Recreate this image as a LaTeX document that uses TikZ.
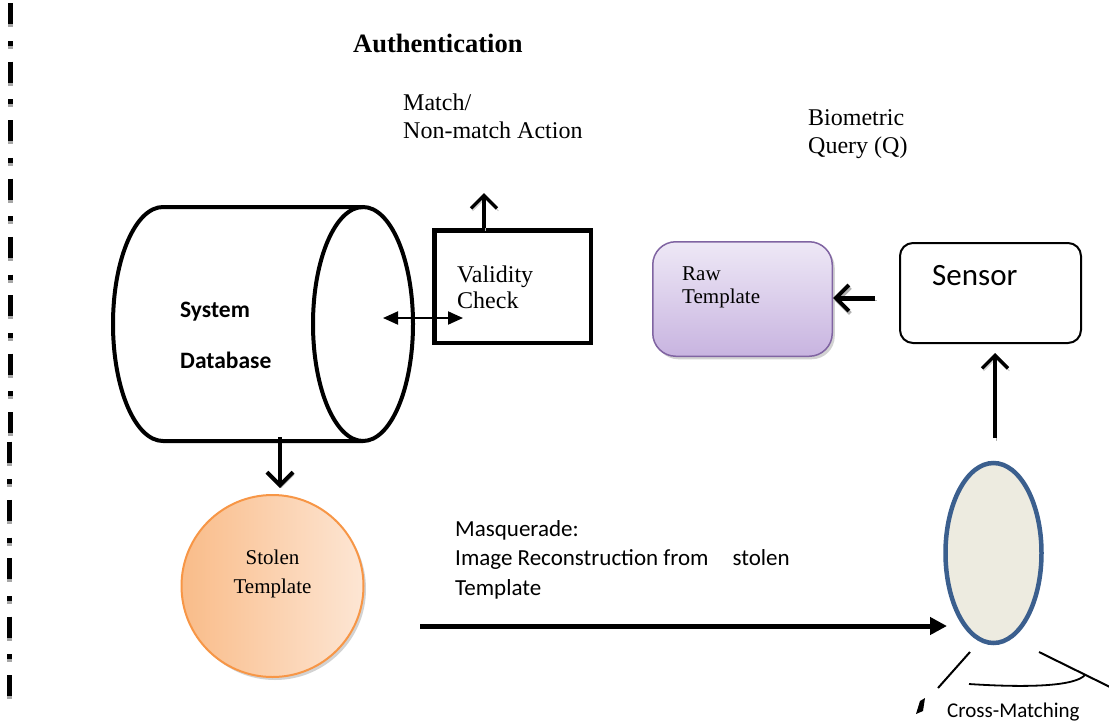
\documentclass[tikz,border=0pt]{standalone}
\usepackage{fontspec}
\setmainfont{Liberation Serif}
\newfontfamily\calibfont{Carlito}
\usetikzlibrary{arrows.meta,shadows,shapes.geometric}
\definecolor{rawtop}{HTML}{EEE8F6}
\definecolor{rawbot}{HTML}{C8B4E0}
\definecolor{rawedge}{HTML}{8064A2}
\definecolor{stleft}{HTML}{F9BC89}
\definecolor{stright}{HTML}{FDE6D4}
\definecolor{stedge}{HTML}{F79646}
\definecolor{eyefill}{HTML}{EDEBE0}
\definecolor{eyeedge}{HTML}{3B5F8E}
\begin{document}
\begin{tikzpicture}[x=1pt,y=-1pt,
  txt/.style={inner sep=0pt, anchor=base west, align=left},
  chev/.style={-{Straight Barb[length=13pt,width=26pt,line width=#1]}},
  arrowshadow/.style={preaction={draw=black!30, transform canvas={xshift=1.5pt,yshift=-2.5pt}}},
  tri/.style={-{Triangle[length=17pt,width=17pt]}},
  dashdot/.style={line width=5pt, dash pattern=on 21pt off 16.7pt on 5pt off 15.7pt},
  softshadow/.style={drop shadow={shadow xshift=2.5pt, shadow yshift=-3pt, fill=black!35}}]
\useasboundingbox (0,0) rectangle (1109,724);

% left dash-dot rule
\draw[dashdot, black!35] (10,6.3) -- (10,439);
\draw[dashdot, black] (10,3.3) -- (10,436);
\draw[dashdot, black!35] (9.5,444.5) -- (9.5,701);
\draw[dashdot, black] (9.5,441.5) -- (9.5,698);

% title and labels (multi-line nodes: base = last line)
\node[txt, font=\bfseries\fontsize{26.5}{30}\selectfont] (title) at (353,52) {Authentication};
\node[txt, font=\fontsize{24}{28}\selectfont] (matchtext) at (403,138) {Match/\\Non-match Action};
\node[txt, font=\fontsize{24}{28}\selectfont] (querytext) at (808,153) {Biometric\\Query (Q)};

% system database cylinder
\draw[line width=4pt] (363,207) -- (163,207) arc[start angle=270, end angle=90, x radius=50, y radius=117] -- (363,441);
\draw[line width=4pt] (363,324) ellipse[x radius=50, y radius=117];
\node[inner sep=0pt, minimum width=300pt, minimum height=234pt] (db) at (263,324) {};
\node[txt, font=\calibfont\bfseries\fontsize{23.5}{51}\selectfont] (dbtext) at (180,368) {System\\Database};

% validity check
\node[draw, line width=4.5pt, minimum width=156.5pt, minimum height=112.5pt, inner sep=0pt] (vc) at (512.5,286.5) {};
\node[txt, font=\fontsize{24}{26}\selectfont] (vctext) at (457,308) {Validity\\Check};

% raw template
\node[draw=rawedge, line width=1.5pt, rounded corners=23pt, top color=rawtop, bottom color=rawbot,
      minimum width=179.5pt, minimum height=114.5pt, inner sep=0pt, softshadow] (raw) at (742.5,299) {};
\node[txt, font=\fontsize{21}{23}\selectfont] (rawtext) at (682,303) {Raw\\Template};

% sensor
\node[draw, line width=2pt, rounded corners=13pt, minimum width=181pt, minimum height=100pt, inner sep=0pt] (sensor) at (990.5,293) {};
\node[txt, font=\calibfont\fontsize{31}{36}\selectfont] (sensortext) at (932,285) {Sensor};

% eye / biometric
\node[ellipse, draw=eyeedge, fill=eyefill, line width=4.5pt, minimum width=96pt, minimum height=180pt, inner sep=0pt] (eye) at (993.5,553) {};

% stolen template
\node[circle, draw=stedge, line width=2pt, left color=stleft, right color=stright,
      minimum size=182pt, inner sep=0pt, softshadow] (stolen) at (272.5,586) {};
\node[inner sep=0pt, anchor=base, align=center, font=\fontsize{21}{29}\selectfont] (stolentext) at (272.5,593) {Stolen\\Template};

% masquerade text
\node[txt, font=\calibfont\fontsize{23}{29.5}\selectfont] (masqtext) at (455,595) {Masquerade:\\Image Reconstruction from\hspace{24pt}stolen\\Template};
\node[txt, font=\calibfont\fontsize{21}{25}\selectfont] (cmtext) at (947,717) {Cross-Matching};

% connector end points
\coordinate (mnTip) at (484,193);
\coordinate (dbPort) at (383,318);
\coordinate (vcPort) at (463,318);
\coordinate (dbOut) at (280,437);
\coordinate (stolenIn) at (280,488);
\coordinate (sensorOut) at (875,298);
\coordinate (eyeOut) at (995,438);
\coordinate (sensorIn) at (995,353);
\coordinate (masqStart) at (420,626);
\coordinate (eyeIn) at (947,626);

% connectors
\draw[line width=3.5pt, chev=3.5pt, arrowshadow] (mnTip |- vc.north) -- (mnTip);
\draw[line width=2pt, {Triangle[length=15pt,width=13pt]}-{Triangle[length=15pt,width=13pt]}] (dbPort) -- (vcPort);
\draw[line width=4pt, chev=4pt, arrowshadow] (dbOut) -- (stolenIn);
\draw[line width=5pt, chev=4pt, arrowshadow] (sensorOut) -- (raw.east |- sensorOut);
\draw[line width=3.5pt, chev=3.5pt, arrowshadow] (eyeOut) -- (sensorIn);
\draw[line width=5pt, tri] (masqStart) -- (eyeIn);

% cross-matching marks
\draw[line width=2pt] (970,652) -- (938,688);
\draw[line width=2pt] (1039,652) -- (1112,688);
\draw[line width=1.8pt] (969,684) .. controls (1030,688) and (1075,686) .. (1085,675);
\fill (920,701) -- (925,698) -- (923,711) -- (916,714) -- cycle;
\end{tikzpicture}
\end{document}
